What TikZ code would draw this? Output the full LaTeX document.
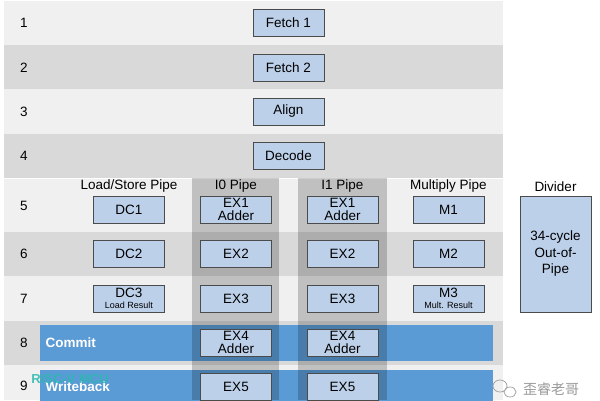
\documentclass[tikz,border=0pt]{standalone}
\usepackage{fontspec}
\setmainfont{Liberation Sans}
\newfontfamily\cjk{Noto Sans CJK SC}
\usepackage{xcolor}
\definecolor{bandlight}{RGB}{240,240,240}
\definecolor{banddark}{RGB}{217,217,217}
\definecolor{stagefill}{RGB}{189,208,233}
\definecolor{stageline}{RGB}{75,75,75}
\definecolor{barblue}{RGB}{91,155,213}
\definecolor{wmteal}{RGB}{40,185,175}

\begin{document}
\begin{tikzpicture}[x=1pt,y=-1pt,font=\fontsize{13.5}{15}\selectfont,
  stage/.style={draw=stageline,line width=0.9pt,fill=stagefill,minimum width=71pt,minimum height=27pt,inner sep=0pt,align=center},
  twoline/.style={stage,font=\fontsize{13.5}{12.5}\selectfont},
  tall/.style={stage,minimum height=116pt,font=\fontsize{13.5}{16.5}\selectfont},
  pipecol/.style={fill=black,opacity=0.2},
  bar/.style={fill=barblue},
  barlabel/.style={anchor=west,text=white,font=\fontsize{13.5}{15}\selectfont\bfseries}]
\useasboundingbox (0,0) rectangle (600,400);
\clip (0,0) rectangle (600,400);

% Bands
\fill[bandlight] (4,1) rectangle (503,45);
\fill[banddark] (4,45) rectangle (503,89);
\fill[bandlight] (4,89) rectangle (503,134);
\fill[banddark] (4,134) rectangle (503,178);
\fill[bandlight] (4,179) rectangle (503,232);
\fill[banddark] (4,232) rectangle (503,276);
\fill[bandlight] (4,276) rectangle (503,321);
\fill[banddark] (4,321) rectangle (503,365);
\fill[bandlight] (4,365) rectangle (503,400);

% Cycle numbers
\node (n1) at (24,22.5) {1};
\node (n2) at (24,67.5) {2};
\node (n3) at (24,112) {3};
\node (n4) at (24,156) {4};
\node (n5) at (24,206) {5};
\node (n6) at (24,254) {6};
\node (n7) at (24,298.5) {7};
\node (n8) at (24,342.5) {8};
\node (n9) at (24,386) {9};

% Commit and writeback
\fill[bar] (40,325) rectangle (493,361);
\node[barlabel] (commit) at (42,343) {Commit};
\fill[bar] (40,370) rectangle (493,410);
\node[barlabel] (wb) at (42,387) {Writeback};

% Integer pipes
\fill[pipecol] (192,178) rectangle (279,400);
\fill[pipecol] (298,178) rectangle (387,400);

% Front end
\node[stage] (fetch1) at (288.5,22.5) {Fetch 1};
\node[stage] (fetch2) at (288.5,67.5) {Fetch 2};
\node[stage] (align) at (288.5,111.5) {Align};
\node[stage] (decode) at (288.5,155.5) {Decode};

% Pipe headers
\node (lshead) at (129,186.5) {Load/Store Pipe};
\node (i0head) at (236,186.5) {I0 Pipe};
\node (i1head) at (342.5,186.5) {I1 Pipe};
\node (mulhead) at (448.5,186.5) {Multiply Pipe};
\node (divhead) at (555.5,186.5) {Divider};

% Load/Store
\node[stage] (dc1) at (129,209.5) {DC1};
\node[stage] (dc2) at (129,254) {DC2};
\node[twoline] (dc3) at (129,298.5) {DC3\\[-2pt]\fontsize{9}{9}\selectfont Load Result};

% I0
\node[twoline] (ex1a) at (236,209.5) {EX1\\Adder};
\node[stage] (ex2a) at (236,254) {EX2};
\node[stage] (ex3a) at (236,298.5) {EX3};
\node[twoline] (ex4a) at (236,342.5) {EX4\\Adder};
\node[stage] (ex5a) at (236,387) {EX5};

% I1
\node[twoline] (ex1b) at (342.5,209.5) {EX1\\Adder};
\node[stage] (ex2b) at (342.5,254) {EX2};
\node[stage] (ex3b) at (342.5,298.5) {EX3};
\node[twoline] (ex4b) at (342.5,342.5) {EX4\\Adder};
\node[stage] (ex5b) at (342.5,387) {EX5};

% Multiply
\node[stage] (m1) at (448.5,209.5) {M1};
\node[stage] (m2) at (448.5,254) {M2};
\node[twoline] (m3) at (448.5,298.5) {M3\\[-2pt]\fontsize{9}{9}\selectfont Mult. Result};

% Divider
\node[tall] (div) at (555.5,254) {34-cycle\\Out-of-\\Pipe};

% Watermarks
\node[text=wmteal,opacity=0.85,font=\fontsize{13}{15}\selectfont\bfseries] (wm) at (70,379) {RISC-V MCU};
\draw[gray!70,line width=0.8pt] (500,386) ellipse (7pt and 6pt) (510,392) ellipse (6pt and 5pt);
\node[text=gray!80,font=\cjk\fontsize{14}{16}\selectfont] (wmcn) at (551,389) {歪睿老哥};
\end{tikzpicture}
\end{document}
